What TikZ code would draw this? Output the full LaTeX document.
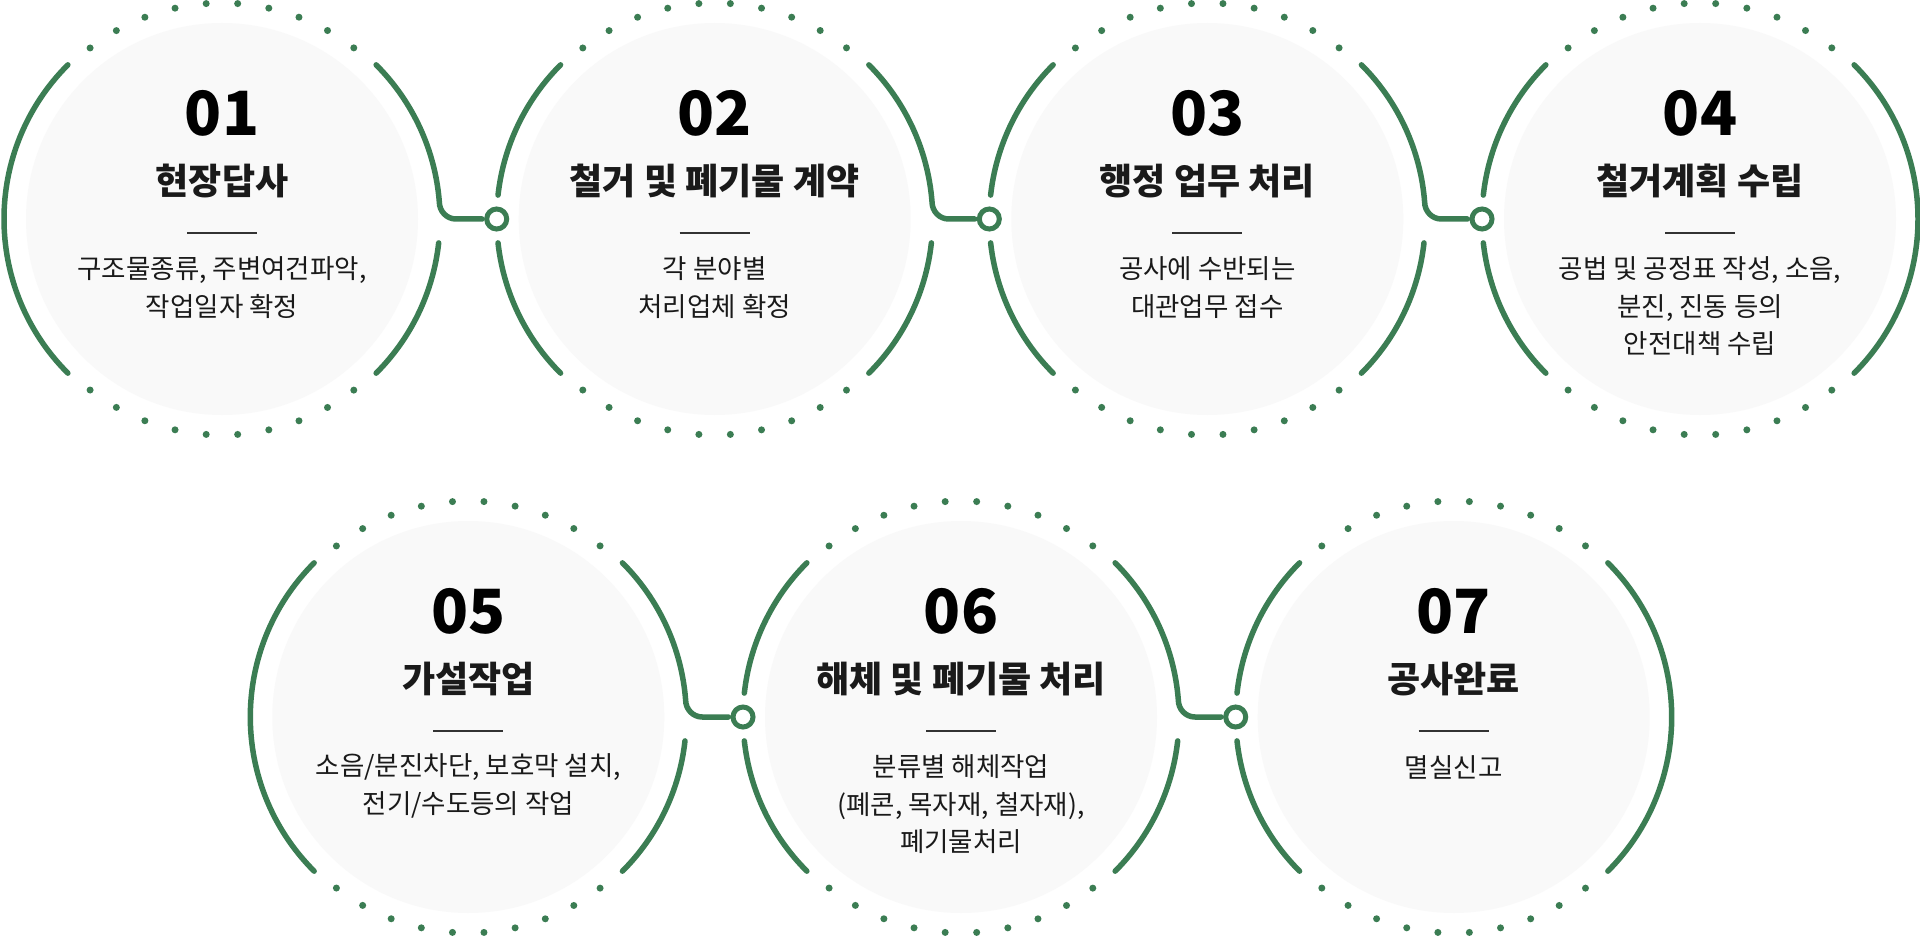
\documentclass[tikz,border=0pt]{standalone}
\usepackage{fontspec}
\setmainfont{Noto Sans CJK KR}
\usetikzlibrary{calc}
\definecolor{grn}{HTML}{3B7D53}
\definecolor{bgc}{HTML}{F9F9F9}
\definecolor{txt}{HTML}{1A1A1A}
\tikzset{
  bgcircle/.style={circle,fill=bgc,minimum size=392pt,inner sep=0pt},
  numtxt/.style={font=\fontsize{61}{61}\selectfont\bfseries,text=black,inner sep=0pt},
  titletxt/.style={font=\fontsize{36}{42}\selectfont\bfseries,text=txt,inner sep=0pt},
  desctxt/.style={font=\fontsize{26.5}{37.5}\selectfont,text=txt,align=center,inner sep=0pt},
  sepline/.style={line width=2pt,draw=black!80},
  arcline/.style={draw=grn,line width=5.5pt,line cap=round},
  ringnode/.style={circle,draw=grn,line width=5pt,fill=white,minimum size=20pt,inner sep=0pt},
  dotc/.style={fill=grn},
}
\newcommand\mkstep[7]{%
  \node[bgcircle] (#1) at (#2,#3) {};
  \node[numtxt] (#1-num) at ($(#1)+(0,106)$) {#4};
  \node[titletxt] (#1-title) at ($(#1)+(0,38)$) {#5};
  \coordinate (#1-la) at ($(#1)+(-35,-14)$);
  \coordinate (#1-lb) at ($(#1)+(35,-14)$);
  \draw[sepline] (#1-la) -- (#1-lb);
  \node[desctxt] (#1-desc) at ($(#1)+(0,#7)$) {#6};
  \foreach \k in {0,...,9}{%
    \fill[dotc] ($(#1)+({52.4+\k*8.36}:216)$) circle (3.5);
    \fill[dotc] ($(#1)+({-52.4-\k*8.36}:216)$) circle (3.5);
  }%
}
\newcommand\arcL[1]{\draw[arcline] ($(#1)+(135:218)$) arc[start angle=135,end angle=225,radius=218];}
\newcommand\arcLgap[1]{%
  \draw[arcline] ($(#1)+(135:218)$) arc[start angle=135,end angle=173.7,radius=218];
  \draw[arcline] ($(#1)+(186.3:218)$) arc[start angle=186.3,end angle=225,radius=218];}
\newcommand\arcR[1]{\draw[arcline] ($(#1)+(45:218)$) arc[start angle=45,end angle=-45,radius=218];}
\newcommand\arcRlink[2]{%
  \coordinate (#1-bend) at ($(#1)+(234,0)$);
  \draw[arcline] ($(#1)+(45:218)$) arc[start angle=45,end angle=4.5,radius=218]
     to[out=-90,in=180] (#1-bend) -- ([xshift=-2pt]#2.west);
  \draw[arcline] ($(#1)+(-6.3:218)$) arc[start angle=-6.3,end angle=-45,radius=218];}
\begin{document}
\begin{tikzpicture}[x=1pt,y=1pt]
\useasboundingbox (0,0) rectangle (1920,-936);
\fill[white] (0,0) rectangle (1920,-936);
% top row
\mkstep{s1}{222}{-219}{01}{현장답사}{구조물종류, 주변여건파악,\\작업일자 확정}{-68.75}
\mkstep{s2}{714.7}{-219}{02}{철거 및 폐기물 계약}{각 분야별\\처리업체 확정}{-68.75}
\mkstep{s3}{1207.3}{-219}{03}{행정 업무 처리}{공사에 수반되는\\대관업무 접수}{-68.75}
\mkstep{s4}{1700}{-219}{04}{철거계획 수립}{공법 및 공정표 작성, 소음,\\분진, 진동 등의\\안전대책 수립}{-87.5}
% bottom row
\mkstep{s5}{468.3}{-717}{05}{가설작업}{소음/분진차단, 보호막 설치,\\전기/수도등의 작업}{-68.75}
\mkstep{s6}{961}{-717}{06}{해체 및 폐기물 처리}{분류별 해체작업\\(폐콘, 목자재, 철자재),\\폐기물처리}{-87.5}
\mkstep{s7}{1453.7}{-717}{07}{공사완료}{멸실신고}{-50}
% rings
\node[ringnode] (r12) at ($(s2)+(-218,0)$) {};
\node[ringnode] (r23) at ($(s3)+(-218,0)$) {};
\node[ringnode] (r34) at ($(s4)+(-218,0)$) {};
\node[ringnode] (r56) at ($(s6)+(-218,0)$) {};
\node[ringnode] (r67) at ($(s7)+(-218,0)$) {};
% arcs
\arcL{s1}
\arcRlink{s1}{r12}
\arcLgap{s2}
\arcRlink{s2}{r23}
\arcLgap{s3}
\arcRlink{s3}{r34}
\arcLgap{s4}
\arcR{s4}
\arcL{s5}
\arcRlink{s5}{r56}
\arcLgap{s6}
\arcRlink{s6}{r67}
\arcLgap{s7}
\arcR{s7}
\end{tikzpicture}
\end{document}
